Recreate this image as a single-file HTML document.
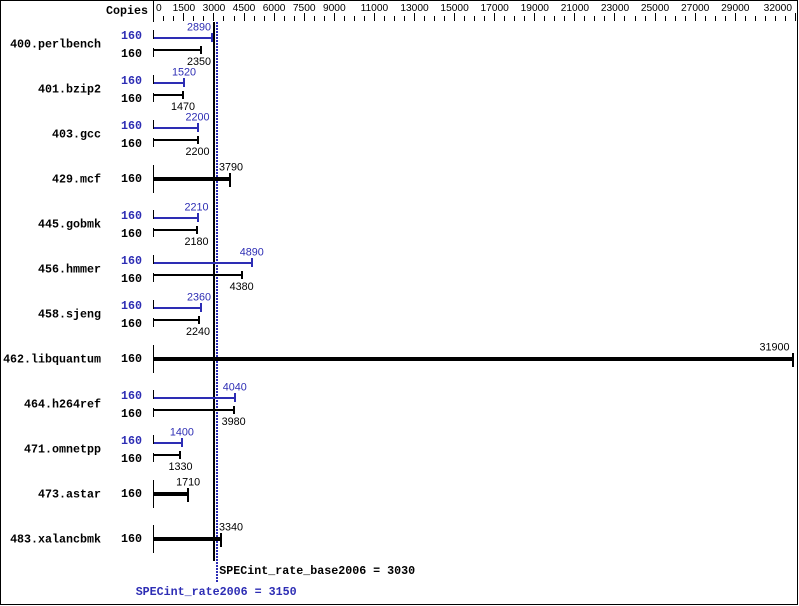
<!DOCTYPE html>
<html><head><meta charset="utf-8"><style>
html,body{margin:0;padding:0;background:#fff;}
svg{display:block;}
.b{font-family:"Liberation Mono",monospace;font-weight:bold;font-size:11.67px;}
.v{font-family:"Liberation Sans",sans-serif;font-size:10.8px;}
.a{font-family:"Liberation Sans",sans-serif;font-size:10.2px;}
</style></head><body>
<svg width="799" height="606" viewBox="0 0 799 606" xmlns="http://www.w3.org/2000/svg">
<rect x="0" y="0" width="799" height="606" fill="#fff"/>
<rect x="0.5" y="0.5" width="797" height="604" fill="none" stroke="#000" stroke-width="1" shape-rendering="crispEdges"/>

<!-- axis -->
<g shape-rendering="crispEdges" stroke="#000" stroke-width="1">
<line x1="153.5" y1="0" x2="153.5" y2="22"/>
<path d="M163.5 16V21M173.5 16V21M183.5 13V21M193.5 16V21M203.5 16V21M213.5 13V21M223.5 16V21M234.5 16V21M244.5 13V21M254.5 16V21M264.5 16V21M274.5 13V21M284.5 16V21M294.5 16V21M304.5 13V21M314.5 16V21M324.5 16V21M334.5 13V21M344.5 16V21M354.5 16V21M364.5 16V21M374.5 13V21M384.5 16V21M394.5 16V21M404.5 16V21M414.5 13V21M424.5 16V21M434.5 16V21M444.5 16V21M454.5 13V21M464.5 16V21M474.5 16V21M484.5 16V21M494.5 13V21M504.5 16V21M514.5 16V21M524.5 16V21M534.5 13V21M544.5 16V21M554.5 16V21M564.5 16V21M574.5 13V21M584.5 16V21M594.5 16V21M604.5 16V21M614.5 13V21M624.5 16V21M635.5 16V21M645.5 16V21M655.5 13V21M665.5 16V21M675.5 16V21M685.5 16V21M695.5 13V21M705.5 16V21M715.5 16V21M725.5 16V21M735.5 13V21M745.5 16V21M755.5 16V21M765.5 16V21M775.5 16V21M785.5 16V21M795.5 13V21"/>
</g>
<g class="a" fill="#000" text-anchor="middle">
<text x="156" y="11" text-anchor="start">0</text>
<text x="183.9" y="11">1500</text>
<text x="214" y="11">3000</text>
<text x="244" y="11">4500</text>
<text x="274.1" y="11">6000</text>
<text x="304.2" y="11">7500</text>
<text x="334.3" y="11">9000</text>
<text x="374.4" y="11">11000</text>
<text x="414.5" y="11">13000</text>
<text x="454.6" y="11">15000</text>
<text x="494.7" y="11">17000</text>
<text x="534.8" y="11">19000</text>
<text x="574.9" y="11">21000</text>
<text x="615" y="11">23000</text>
<text x="655" y="11">25000</text>
<text x="695.2" y="11">27000</text>
<text x="735.3" y="11">29000</text>
<text x="792" y="11" text-anchor="end">32000</text>
</g>
<text class="b" x="148" y="14" text-anchor="end" fill="#000">Copies</text>

<!-- mean lines -->
<rect x="213" y="22" width="2" height="539" fill="#000" shape-rendering="crispEdges"/>
<line x1="217" y1="22" x2="217" y2="583" stroke="#2d2db4" stroke-width="2" stroke-dasharray="2 1" shape-rendering="crispEdges"/>

<!-- bars -->
<g shape-rendering="crispEdges">
<!-- 400 c=43 -->
<rect x="153" y="30" width="1" height="9" fill="#000"/>
<rect x="154" y="37" width="58" height="2" fill="#2d2db4"/>
<rect x="211" y="33" width="2" height="9" fill="#2d2db4"/>
<rect x="153" y="48" width="1" height="9" fill="#000"/>
<rect x="154" y="49" width="47" height="2" fill="#000"/>
<rect x="200" y="46" width="2" height="8" fill="#000"/>
<!-- 401 c=88 -->
<rect x="153" y="75" width="1" height="9" fill="#000"/>
<rect x="154" y="82" width="30" height="2" fill="#2d2db4"/>
<rect x="183" y="78" width="2" height="9" fill="#2d2db4"/>
<rect x="153" y="93" width="1" height="9" fill="#000"/>
<rect x="154" y="94" width="29" height="2" fill="#000"/>
<rect x="182" y="91" width="2" height="8" fill="#000"/>
<!-- 403 c=133 -->
<rect x="153" y="120" width="1" height="9" fill="#000"/>
<rect x="154" y="127" width="44" height="2" fill="#2d2db4"/>
<rect x="197" y="123" width="2" height="9" fill="#2d2db4"/>
<rect x="153" y="138" width="1" height="9" fill="#000"/>
<rect x="154" y="139" width="44" height="2" fill="#000"/>
<rect x="197" y="136" width="2" height="8" fill="#000"/>
<!-- 429 c=178 -->
<rect x="153" y="165" width="1" height="28" fill="#000"/>
<rect x="154" y="177" width="76" height="4" fill="#000"/>
<rect x="229" y="173" width="2" height="14" fill="#000"/>
<!-- 445 c=223 -->
<rect x="153" y="210" width="1" height="9" fill="#000"/>
<rect x="154" y="217" width="44" height="2" fill="#2d2db4"/>
<rect x="197" y="213" width="2" height="9" fill="#2d2db4"/>
<rect x="153" y="228" width="1" height="9" fill="#000"/>
<rect x="154" y="229" width="43" height="2" fill="#000"/>
<rect x="196" y="226" width="2" height="8" fill="#000"/>
<!-- 456 c=268 -->
<rect x="153" y="255" width="1" height="9" fill="#000"/>
<rect x="154" y="262" width="98" height="2" fill="#2d2db4"/>
<rect x="251" y="258" width="2" height="9" fill="#2d2db4"/>
<rect x="153" y="273" width="1" height="9" fill="#000"/>
<rect x="154" y="274" width="88" height="2" fill="#000"/>
<rect x="241" y="271" width="2" height="8" fill="#000"/>
<!-- 458 c=313 -->
<rect x="153" y="300" width="1" height="9" fill="#000"/>
<rect x="154" y="307" width="47" height="2" fill="#2d2db4"/>
<rect x="200" y="303" width="2" height="9" fill="#2d2db4"/>
<rect x="153" y="318" width="1" height="9" fill="#000"/>
<rect x="154" y="319" width="45" height="2" fill="#000"/>
<rect x="198" y="316" width="2" height="8" fill="#000"/>
<!-- 462 c=358 -->
<rect x="153" y="345" width="1" height="28" fill="#000"/>
<rect x="154" y="357" width="639" height="4" fill="#000"/>
<rect x="792" y="353" width="2" height="14" fill="#000"/>
<!-- 464 c=403 -->
<rect x="153" y="390" width="1" height="9" fill="#000"/>
<rect x="154" y="397" width="81" height="2" fill="#2d2db4"/>
<rect x="234" y="393" width="2" height="9" fill="#2d2db4"/>
<rect x="153" y="408" width="1" height="9" fill="#000"/>
<rect x="154" y="409" width="80" height="2" fill="#000"/>
<rect x="233" y="406" width="2" height="8" fill="#000"/>
<!-- 471 c=448 -->
<rect x="153" y="435" width="1" height="9" fill="#000"/>
<rect x="154" y="442" width="28" height="2" fill="#2d2db4"/>
<rect x="181" y="438" width="2" height="9" fill="#2d2db4"/>
<rect x="153" y="453" width="1" height="9" fill="#000"/>
<rect x="154" y="454" width="26" height="2" fill="#000"/>
<rect x="179" y="451" width="2" height="8" fill="#000"/>
<!-- 473 c=493 -->
<rect x="153" y="480" width="1" height="28" fill="#000"/>
<rect x="154" y="492" width="34" height="4" fill="#000"/>
<rect x="187" y="488" width="2" height="14" fill="#000"/>
<!-- 483 c=538 -->
<rect x="153" y="525" width="1" height="28" fill="#000"/>
<rect x="154" y="537" width="67" height="4" fill="#000"/>
<rect x="220" y="533" width="2" height="14" fill="#000"/>
</g>

<!-- benchmark labels -->
<g class="b" fill="#000" text-anchor="end">
<text x="101" y="47.5">400.perlbench</text>
<text x="101" y="92.5">401.bzip2</text>
<text x="101" y="137.5">403.gcc</text>
<text x="101" y="182.5">429.mcf</text>
<text x="101" y="227.5">445.gobmk</text>
<text x="101" y="272.5">456.hmmer</text>
<text x="101" y="317.5">458.sjeng</text>
<text x="101" y="362.5">462.libquantum</text>
<text x="101" y="407.5">464.h264ref</text>
<text x="101" y="452.5">471.omnetpp</text>
<text x="101" y="497.5">473.astar</text>
<text x="101" y="542.5">483.xalancbmk</text>
</g>

<!-- copies -->
<g class="b">
<text x="121" y="39" fill="#2d2db4">160</text><text x="121" y="57" fill="#000">160</text>
<text x="121" y="84" fill="#2d2db4">160</text><text x="121" y="102" fill="#000">160</text>
<text x="121" y="129" fill="#2d2db4">160</text><text x="121" y="147" fill="#000">160</text>
<text x="121" y="182" fill="#000">160</text>
<text x="121" y="219" fill="#2d2db4">160</text><text x="121" y="237" fill="#000">160</text>
<text x="121" y="264" fill="#2d2db4">160</text><text x="121" y="282" fill="#000">160</text>
<text x="121" y="309" fill="#2d2db4">160</text><text x="121" y="327" fill="#000">160</text>
<text x="121" y="362" fill="#000">160</text>
<text x="121" y="399" fill="#2d2db4">160</text><text x="121" y="417" fill="#000">160</text>
<text x="121" y="444" fill="#2d2db4">160</text><text x="121" y="462" fill="#000">160</text>
<text x="121" y="497" fill="#000">160</text>
<text x="121" y="542" fill="#000">160</text>
</g>

<!-- value labels -->
<g class="v" text-anchor="middle">
<text x="211" y="30.7" fill="#2d2db4" text-anchor="end">2890</text>
<text x="211" y="65" fill="#000" text-anchor="end">2350</text>
<text x="184" y="75.7" fill="#2d2db4">1520</text>
<text x="183" y="110" fill="#000">1470</text>
<text x="197.5" y="120.7" fill="#2d2db4">2200</text>
<text x="197.5" y="155" fill="#000">2200</text>
<text x="219" y="170.7" fill="#000" text-anchor="start">3790</text>
<text x="196.5" y="210.7" fill="#2d2db4">2210</text>
<text x="196.5" y="245" fill="#000">2180</text>
<text x="251.8" y="255.7" fill="#2d2db4">4890</text>
<text x="241.6" y="290" fill="#000">4380</text>
<text x="211" y="300.7" fill="#2d2db4" text-anchor="end">2360</text>
<text x="198" y="335" fill="#000">2240</text>
<text x="789.5" y="350.7" fill="#000" text-anchor="end">31900</text>
<text x="234.8" y="390.7" fill="#2d2db4">4040</text>
<text x="233.6" y="425" fill="#000">3980</text>
<text x="181.9" y="435.7" fill="#2d2db4">1400</text>
<text x="180.5" y="470" fill="#000">1330</text>
<text x="188.1" y="485.7" fill="#000">1710</text>
<text x="219" y="530.7" fill="#000" text-anchor="start">3340</text>
</g>

<!-- summary -->
<text class="b" x="219.3" y="574" fill="#000">SPECint_rate_base2006 = 3030</text>
<text class="b" x="135.7" y="595" fill="#2d2db4">SPECint_rate2006 = 3150</text>
</svg>
</body></html>
